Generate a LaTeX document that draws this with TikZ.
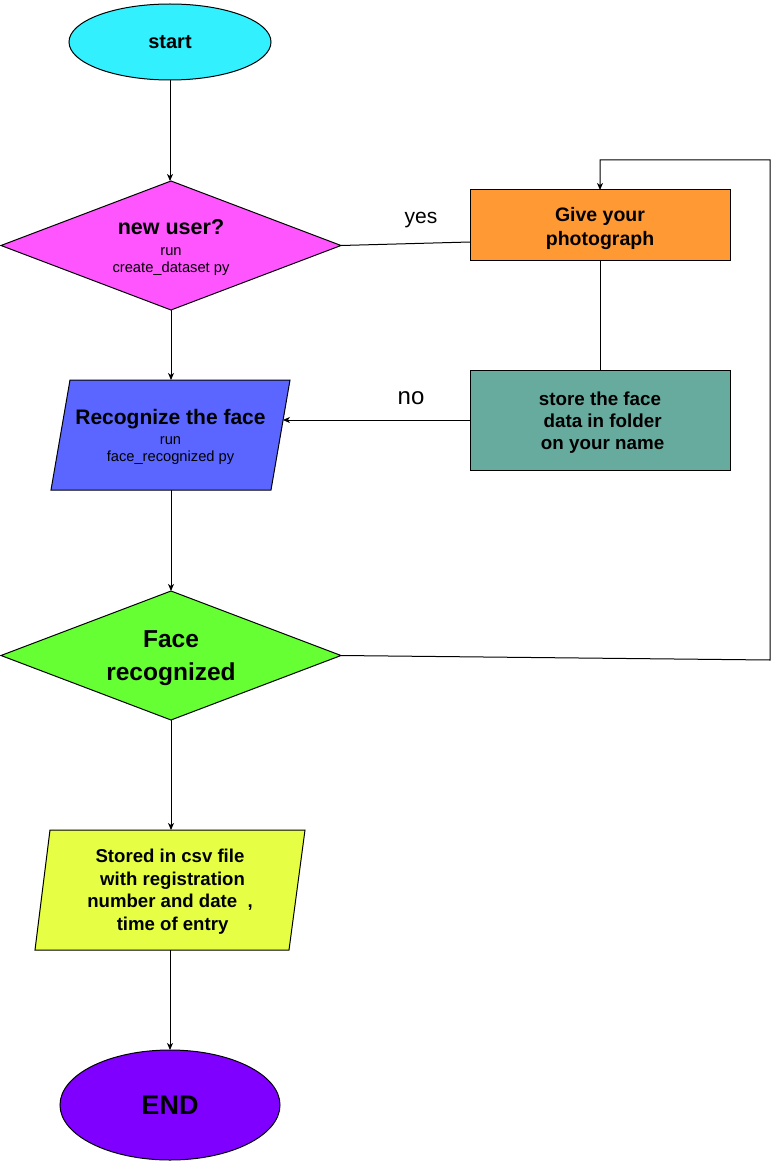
\documentclass[tikz,border=0pt]{standalone}
\usepackage{fontspec}
\setmainfont{Liberation Sans}
\usetikzlibrary{shapes.geometric,arrows.meta,calc}
\definecolor{cstart}{HTML}{33F0FF}
\definecolor{cnew}{HTML}{FF55FF}
\definecolor{cgive}{HTML}{FF9933}
\definecolor{cstore}{HTML}{67AB9F}
\definecolor{crec}{HTML}{5A66FF}
\definecolor{cface}{HTML}{66FF33}
\definecolor{cstored}{HTML}{E6FF44}
\definecolor{cend}{HTML}{7F00FF}
\begin{document}
\begin{tikzpicture}[x=1pt,y=-1pt,
  every node/.style={inner sep=0pt, outer sep=0pt},
  shp/.style={draw=black, line width=1pt, align=center},
  rbox/.style={shp, rectangle, minimum width=260pt},
  dia/.style={shp, diamond, aspect=2.64, minimum width=340pt, minimum height=129pt},
  conn/.style={line width=1pt, draw=black},
  arr/.style={conn, -{Stealth[length=7pt,width=6pt,inset=2pt]}},
  lbl/.style={anchor=base}
]
\useasboundingbox (0,0) rectangle (772,1161);

% start
\node[shp, ellipse, fill=cstart, minimum width=202pt, minimum height=76pt,
  font=\fontsize{20}{22}\selectfont\bfseries] (start) at (170,42) {start};

% new user?
\node[dia, fill=cnew, font=\fontsize{14.7}{17}\selectfont] (nu) at (171,245.5)
  {\rule{0pt}{20pt}{\fontsize{21.5}{22}\selectfont\bfseries new user?}\\[4pt]
   run\\
   create\_dataset py};

% Give your photograph
\node[rbox, fill=cgive, minimum height=70pt, font=\fontsize{19.5}{24}\selectfont\bfseries] (give) at (600,225)
  {\rule{0pt}{22pt}Give your\\photograph};

% store
\node[rbox, fill=cstore, minimum height=100pt, font=\fontsize{18.8}{22}\selectfont\bfseries] (store) at (600,420)
  {\rule{0pt}{18pt}store the face\\\ data in folder\\\ on your name};

% Recognize the face (parallelogram)
\path[shp, fill=crec] (70,380) coordinate (recTL) -- (290,380) coordinate (recTR)
  -- (271,490) coordinate (recBR) -- (51,490) coordinate (recBL) -- cycle;
\node[align=center, minimum width=239pt, minimum height=110pt,
  font=\fontsize{14.7}{17}\selectfont] (rec) at (170.5,435)
  {\rule{0pt}{20pt}{\fontsize{21}{22}\selectfont\bfseries Recognize the face}\\[3pt]
   run\\
   face\_recognized py};
\coordinate (recR) at ($(recTR)!0.3727!(recBR)$);

% Face recognized
\node[dia, fill=cface, font=\fontsize{24.5}{33}\selectfont\bfseries] (fr) at (171,655.5)
  {\rule{0pt}{21.5pt}Face\\recognized};

% Stored in csv file (parallelogram)
\path[shp, fill=cstored] (50,830) coordinate (stTL) -- (305,830) coordinate (stTR)
  -- (289,950) coordinate (stBR) -- (35,950) coordinate (stBL) -- cycle;
\node[align=center, minimum width=270pt, minimum height=120pt,
  font=\fontsize{18.6}{22.4}\selectfont\bfseries] (st) at (170,890)
  {\rule{0pt}{17pt}Stored in csv file\\\ with registration\\number and date\ \ ,\\\ time of entry};

% END
\node[shp, ellipse, fill=cend, minimum width=220pt, minimum height=110pt,
  font=\fontsize{27}{30}\selectfont\bfseries] (end) at (170,1105) {END};

% labels
\node[lbl, font=\fontsize{21}{24}\selectfont] (yes) at (421,223) {yes};
\node[lbl, font=\fontsize{24}{26}\selectfont] (no) at (411,404) {no};

\coordinate (cR) at (770,660);
\coordinate (cT) at (770,160);

% connectors
\draw[arr] (start.south) -- (start.south |- nu.north);
\draw[conn] (nu.east) -- ([yshift=-17pt]give.west);
\draw[conn] (give.south) -- (store.north);
\draw[arr] (store.west) -- (store.west -| recR);
\draw[arr] (nu.south) -- (nu.south |- rec.north);
\draw[arr] (rec.south -| fr.north) -- (fr.north);
\draw[arr] (fr.east) -- (cR) -- (cT) -| (give.north);
\draw[arr] (fr.south) -- (fr.south |- st.north);
\draw[arr] (st.south -| end.north) -- (end.north);
\end{tikzpicture}
\end{document}
